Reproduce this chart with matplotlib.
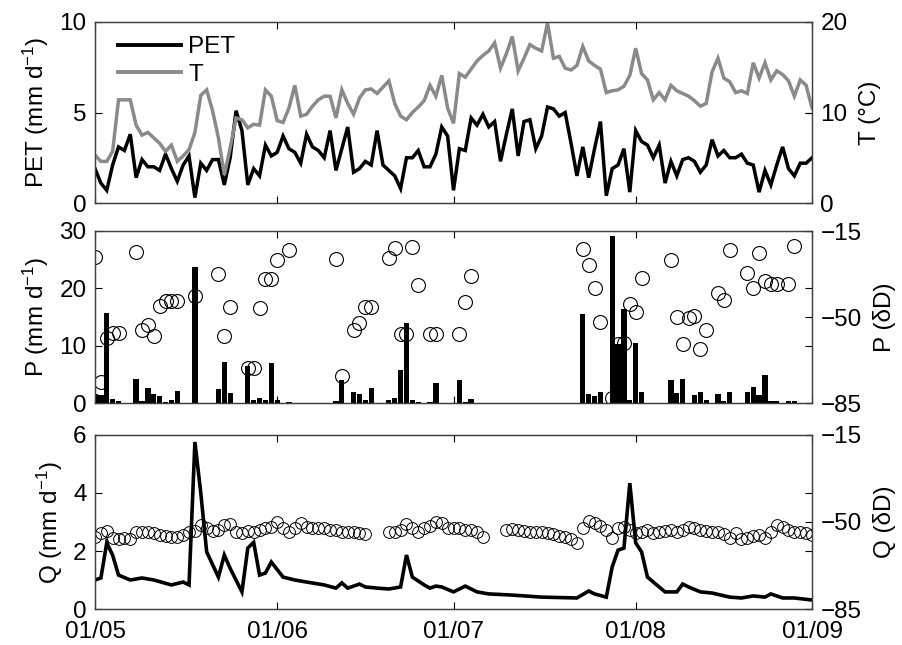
import numpy as np
import matplotlib
matplotlib.use("Agg")
import matplotlib.pyplot as plt
from matplotlib.lines import Line2D

plt.rcParams['font.family'] = ['Liberation Sans', 'DejaVu Sans']
plt.rcParams['mathtext.fontset'] = 'custom'
plt.rcParams['mathtext.rm'] = 'Liberation Sans'
plt.rcParams['mathtext.it'] = 'Liberation Sans:italic'
plt.rcParams['mathtext.default'] = 'rm'

# ---------------- data (day index from 01/05) ----------------
pet = [1.9, 1.1, 0.7, 2.1, 3.1, 2.9, 3.8, 1.4, 2.4, 2.0,
       2.0, 1.8, 2.7, 1.9, 1.2, 2.1, 2.6, 0.3, 2.2, 1.8,
       2.4, 2.4, 1.0, 2.5, 5.1, 4.0, 1.0, 1.9, 1.5, 3.2,
       2.6, 2.8, 3.7, 3.0, 2.8, 2.2, 3.8, 3.1, 2.9, 2.5,
       4.0, 1.8, 3.0, 4.2, 1.7, 1.9, 2.3, 2.1, 4.0,
       2.1, 1.8, 1.5, 0.8, 2.5, 2.5, 2.9, 2.0, 2.0, 2.7,
       4.2, 3.7, 0.7, 3.0, 2.9, 4.7, 4.3, 4.9, 4.2, 4.5,
       2.3, 3.8, 5.2, 2.6, 4.5, 4.6, 3.0, 3.7, 5.3, 5.2,
       4.8, 5.0, 3.3, 1.5, 3.1, 1.4, 3.0, 4.5, 0.4, 1.9,
       2.1, 3.0, 0.6, 4.0, 3.4, 3.2, 2.5, 3.2, 1.1, 2.3,
       1.5, 2.4, 2.5, 2.3, 1.7, 2.1, 3.5, 2.6, 2.9, 2.5,
       2.5, 2.7, 2.2, 2.1, 0.6, 1.8, 1.0, 2.1, 3.1, 1.9,
       1.5, 2.2, 2.2, 2.5]

temp = [5.3, 4.6, 4.6, 5.7, 11.4, 11.4, 11.4, 8.6, 7.5, 7.8,
        7.2, 6.6, 5.7, 6.4, 4.6, 5.2, 5.9, 7.8, 11.9, 12.5,
        10.2, 7.2, 3.1, 6.1, 9.4, 9.2, 8.3, 8.7, 8.6, 12.5,
        11.8, 9.1, 8.9, 10.5, 13.0, 9.6, 9.8, 10.7, 11.4, 11.8,
        11.8, 9.4, 12.5, 11.0, 9.8, 11.6, 12.5, 12.6, 12.1,
        12.8, 13.5, 11.0, 9.6, 9.2, 10.0, 10.6, 11.3, 13.0, 11.8,
        14.1, 10.5, 8.8, 14.3, 13.9, 14.8, 15.7, 16.3, 16.8, 17.7,
        14.9, 16.5, 18.4, 14.6, 16.0, 17.5, 17.1, 16.8, 19.9, 16.0,
        16.2, 14.9, 14.7, 15.2, 17.3, 15.7, 15.2, 14.8, 12.2, 12.4,
        12.5, 12.9, 14.1, 17.1, 14.3, 13.6, 11.4, 12.2, 11.4, 13.0,
        12.4, 12.1, 11.8, 11.3, 10.7, 11.0, 14.5, 16.0, 13.8, 13.4,
        12.2, 12.4, 12.1, 15.5, 13.8, 15.5, 13.6, 14.6, 14.2, 13.5,
        11.8, 13.6, 13.0, 10.5]

p_days = [0, 1, 2, 3, 4, 7, 8, 9, 10, 11, 12, 13, 14, 17, 21, 22, 23, 26, 27, 28,
          29, 30, 31, 33, 41, 42, 44, 45, 46, 47, 50, 51, 52, 53, 54, 55, 57, 58,
          62, 63, 64, 83, 84, 85, 86, 88, 89, 90, 91, 92, 93, 98, 99, 100, 102,
          103, 104, 106, 107, 108, 111, 112, 113, 114, 115, 116, 118, 119]
p_vals = [1.6, 1.4, 15.7, 0.7, 0.3, 4.2, 0.4, 2.6, 1.6, 1.3, 0.2, 0.5, 2.1, 23.7,
          2.4, 7.2, 1.8, 6.5, 0.6, 0.9, 0.5, 7.0, 0.6, 0.1, 0.3, 4.0, 1.9, 1.5,
          0.6, 2.6, 0.5, 0.8, 5.8, 14.0, 0.5, 0.2, 0.2, 3.5, 4.0, 0.2, 0.7, 15.5,
          1.6, 1.2, 2.0, 29.1, 10.3, 16.4, 0.5, 10.5, 2.0, 4.0, 1.7, 4.2, 1.4,
          2.0, 0.5, 1.6, 0.3, 2.0, 2.0, 2.8, 1.4, 4.9, 0.4, 0.3, 0.4, 0.4]

pd_days = [0, 1, 2, 3, 4, 7, 8, 9, 10, 11, 12, 13, 14, 17, 21, 22, 23, 26, 27, 28,
           29, 30, 31, 33, 41, 42, 44, 45, 46, 47, 50, 51, 52, 53, 54, 55, 57, 58,
           62, 63, 64, 83, 84, 85, 86, 88, 89, 90, 91, 92, 93, 98, 99, 100, 101,
           102, 103, 104, 106, 107, 108, 111, 112, 113, 114, 115, 116, 118, 119]
pd_vals = [-25.6, -76.5, -58.5, -56.5, -56.5, -23.5, -55.3, -53.3, -57.7, -45.5,
           -43.5, -43.5, -43.5, -41.4, -32.5, -57.7, -45.9, -70.8, -70.8, -46.3,
           -34.5, -34.5, -26.8, -22.7, -26.4, -74.0, -55.3, -52.4, -45.9, -45.9,
           -26.0, -21.9, -56.9, -56.9, -21.5, -37.0, -56.9, -56.9, -56.9, -43.9,
           -33.3, -22.3, -28.8, -38.2, -52.0, -83.0, -61.0, -60.6, -44.7, -48.0,
           -34.1, -26.8, -50.0, -61.0, -50.4, -49.6, -63.0, -55.3, -40.2, -43.1,
           -22.7, -32.1, -38.2, -23.9, -35.3, -36.6, -36.6, -36.6, -21.1]

q_days = [0, 1, 2, 3, 4, 6, 8, 10, 13, 15, 16, 17, 18, 19, 21, 22, 23, 25, 26, 27,
          28, 29, 30, 32, 34, 36, 39, 41, 42, 43, 45, 46, 48, 50, 52, 53, 54, 56,
          57, 58, 59, 61, 63, 65, 67, 71, 76, 82, 84, 85, 87, 88, 89, 90, 91, 92,
          93, 94, 96, 97, 99, 100, 101, 103, 105, 108, 110, 112, 114, 115, 117,
          119, 122]
q_vals = [1.0, 1.07, 2.28, 1.86, 1.17, 1.0, 1.07, 1.0, 0.83, 0.93, 0.83, 5.76, 4.0,
          1.97, 1.1, 1.86, 1.4, 0.59, 2.1, 2.3, 1.17, 1.24, 1.62, 1.1, 1.0, 0.93,
          0.83, 0.72, 0.9, 0.72, 0.86, 0.76, 0.72, 0.69, 0.76, 1.86, 1.1, 0.83,
          0.72, 0.79, 0.76, 0.59, 0.79, 0.59, 0.52, 0.48, 0.41, 0.38, 0.62, 0.52,
          0.41, 1.45, 2.03, 2.1, 4.34, 2.28, 1.97, 1.1, 0.76, 0.59, 0.59, 0.86,
          0.76, 0.59, 0.55, 0.41, 0.38, 0.45, 0.41, 0.52, 0.38, 0.38, 0.31]

nan = np.nan
qd_vals = [-55.9, -54.6, -53.6, -56.3, -56.8, -56.6, -56.8, -54.2, -53.9, -53.9,
           -54.6, -55.2, -55.5, -55.9, -55.9, -55.2, -54.2, -53.6, -51.2, -52.5,
           -53.6, -53.2, -51.2, -50.9, -53.9, -54.6, -53.6, -54.2, -53.2, -52.5,
           -51.9, -50.1, -52.5, -54.2, -52.3, -50.5, -51.9, -52.3, -52.5, -52.5,
           -53.2, -53.2, -53.9, -54.2, -54.2, -54.6, -54.9, nan, nan, nan,
           -54.2, -53.9, -53.2, -50.9, -52.5, -53.9, -52.5, -51.5, -50.1, -50.5,
           -52.3, -52.5, -52.5, -53.2, -53.2, -54.2, -55.9, nan, nan, nan,
           -53.2, -52.8, -53.2, -53.6, -53.9, -53.9, -54.2, -54.6, -54.9, -55.5,
           -55.9, -56.8, -58.6, -52.5, -49.6, -50.5, -51.5, -53.2, -56.3, -52.5,
           -51.9, -53.2, -54.6, -53.9, -53.2, -54.6, -54.2, -53.6, -53.2, -54.2,
           -53.2, -51.9, -52.3, -53.2, -53.6, -53.9, -54.2, -54.9, -56.3, -54.6,
           -56.8, -56.3, -55.5, -55.2, -56.6, -53.9, -51.2, -51.9, -53.2, -53.9,
           -54.2, -54.6, -55.2]

tick_days = [0, 31, 61, 92, 122]
tick_labels = ['01/05', '01/06', '01/07', '01/08', '01/09']

# ---------------- figure ----------------
FS = 17.5
fig = plt.figure(figsize=(9.02, 6.45), dpi=100)
L, W = 95 / 902, 717 / 902
ax1 = fig.add_axes([L, 1 - 203 / 645, W, 181 / 645])
ax2 = fig.add_axes([L, 1 - 403 / 645, W, 172 / 645])
ax3 = fig.add_axes([L, 1 - 609 / 645, W, 174 / 645])

days_pet = np.arange(len(pet))
days_t = np.arange(len(temp))
days_qd = np.arange(len(qd_vals))

frame_col = '#404040'


def style(ax, labels):
    ax.set_xlim(0, 122)
    ax.set_xticks(tick_days)
    if labels:
        ax.set_xticklabels(tick_labels)
    else:
        ax.set_xticklabels([])
    ax.tick_params(direction='in', length=5, width=0.8, colors='black',
                   labelsize=FS, top=True, right=True, pad=6)
    ax.tick_params(axis='x', pad=9)
    for s in ax.spines.values():
        s.set_color(frame_col)
        s.set_linewidth(0.9)


def style_right(a):
    a.tick_params(direction='in', length=5, width=0.8, labelsize=FS, pad=6)
    for s in a.spines.values():
        s.set_color(frame_col)
        s.set_linewidth(0.9)


# top panel
ax1b = ax1.twinx()
ax1.plot(days_pet, pet, color='black', lw=2.5, solid_joinstyle='miter')
ax1b.plot(days_t, temp, color='#8a8a8a', lw=2.5, solid_joinstyle='miter')
ax1.set_ylim(0, 10)
ax1.set_yticks([0, 5, 10])
ax1b.set_ylim(0, 20)
ax1b.set_yticks([0, 10, 20])
style(ax1, False)
style_right(ax1b)
ax1.set_ylabel('PET (mm d$^{-1}$)', fontsize=FS, labelpad=6)
ax1b.set_ylabel('T (°C)', fontsize=FS, labelpad=8)
handles = [Line2D([], [], color='black', lw=2.8), Line2D([], [], color='#8a8a8a', lw=2.8)]
ax1b.legend(handles, ['PET', 'T'], loc='upper left', frameon=False, fontsize=FS,
            handlelength=2.6, handletextpad=0.3, labelspacing=0.22,
            borderaxespad=0.0, bbox_to_anchor=(0.018, 0.975))

# middle panel
ax2b = ax2.twinx()
ax2.bar(p_days, p_vals, width=0.9, color='black', align='center')
ax2b.plot(pd_days, pd_vals, linestyle='none', marker='o', markersize=10,
          markerfacecolor='none', markeredgecolor='black', markeredgewidth=0.8)
ax2.set_zorder(ax2b.get_zorder() + 1)
ax2.patch.set_visible(False)
ax2.set_ylim(0, 30)
ax2.set_yticks([0, 10, 20, 30])
ax2b.set_ylim(-85, -15)
ax2b.set_yticks([-85, -50, -15])
style(ax2, False)
style_right(ax2b)
ax2.set_ylabel('P (mm d$^{-1}$)', fontsize=FS, labelpad=6)
ax2b.set_ylabel('P (δD)', fontsize=FS, labelpad=8)

# bottom panel
ax3b = ax3.twinx()
ax3.plot(q_days, q_vals, color='black', lw=2.6, solid_joinstyle='miter')
ax3b.plot(days_qd, qd_vals, linestyle='none', marker='o', markersize=8.5,
          markerfacecolor='none', markeredgecolor='black', markeredgewidth=0.7)
ax3.set_zorder(ax3b.get_zorder() + 1)
ax3.patch.set_visible(False)
ax3.set_ylim(0, 6)
ax3.set_yticks([0, 2, 4, 6])
ax3b.set_ylim(-85, -15)
ax3b.set_yticks([-85, -50, -15])
style(ax3, True)
style_right(ax3b)
ax3.set_ylabel('Q (mm d$^{-1}$)', fontsize=FS, labelpad=6)
ax3b.set_ylabel('Q (δD)', fontsize=FS, labelpad=8)

fig.savefig('out.png', dpi=100)
